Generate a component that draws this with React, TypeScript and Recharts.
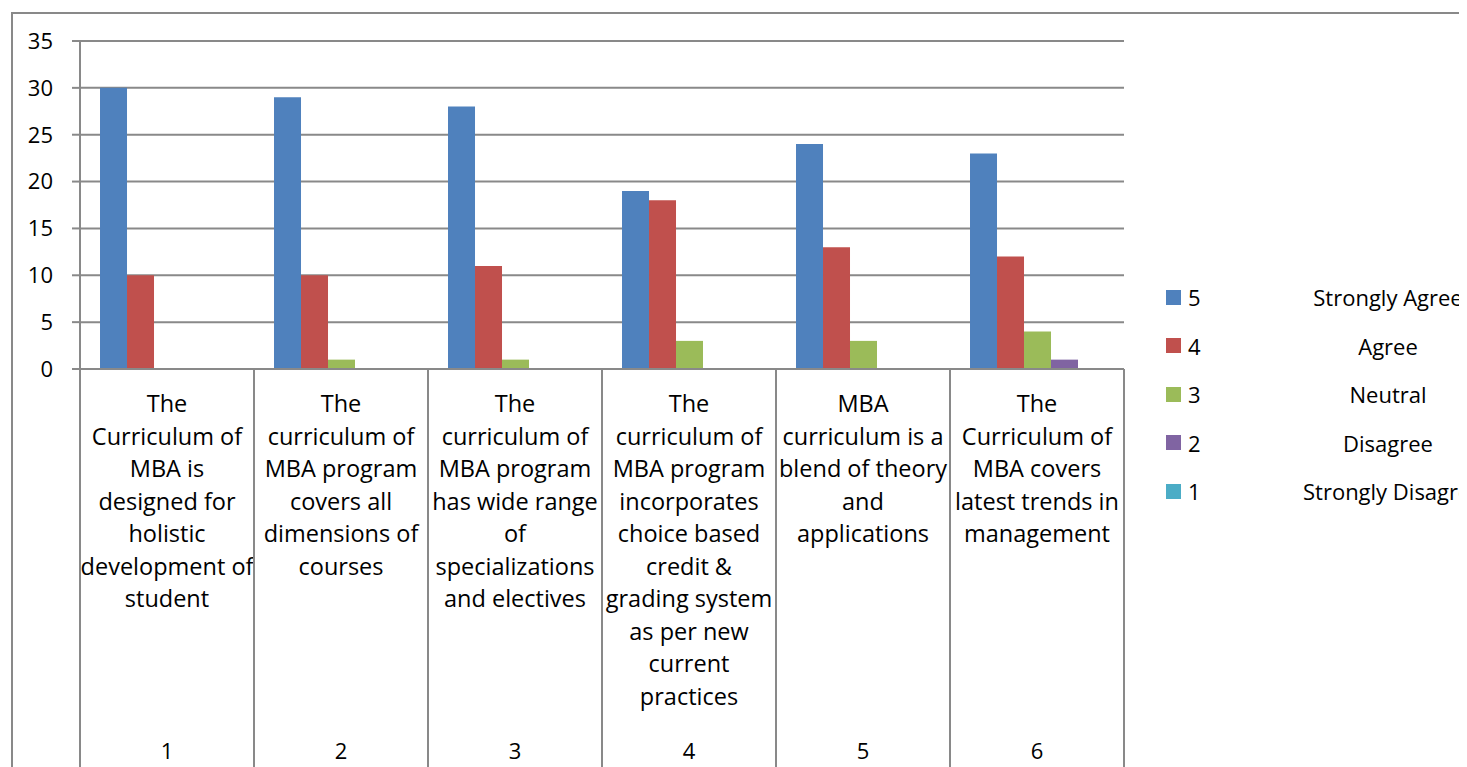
import React from "react";
import { BarChart, Bar, XAxis, YAxis, CartesianGrid } from "recharts";

const categories = ["1", "2", "3", "4", "5", "6"];

const categoryLines = [
  ["The", "Curriculum of", "MBA is", "designed for", "holistic", "development of", "student"],
  ["The", "curriculum of", "MBA program", "covers all", "dimensions of", "courses"],
  ["The", "curriculum of", "MBA program", "has wide range", "of", "specializations", "and electives"],
  ["The", "curriculum of", "MBA program", "incorporates", "choice based", "credit &", "grading system", "as per new", "current", "practices"],
  ["MBA", "curriculum is a", "blend of theory", "and", "applications"],
  ["The", "Curriculum of", "MBA covers", "latest trends in", "management"],
];

const strongAgree = [30, 29, 28, 19, 24, 23];
const agree = [10, 10, 11, 18, 13, 12];
const neutral = [0, 1, 1, 3, 3, 4];
const disagree = [0, 0, 0, 0, 0, 1];
const strongDisagree = [0, 0, 0, 0, 0, 0];

const yTicks = [0, 5, 10, 15, 20, 25, 30, 35];

const series = [
  { key: "s5", code: "5", name: "Strongly Agree", color: "#4F81BD", values: strongAgree },
  { key: "s4", code: "4", name: "Agree", color: "#C0504D", values: agree },
  { key: "s3", code: "3", name: "Neutral", color: "#9BBB59", values: neutral },
  { key: "s2", code: "2", name: "Disagree", color: "#8064A2", values: disagree },
  { key: "s1", code: "1", name: "Strongly Disagree", color: "#4BACC6", values: strongDisagree },
];

const data = categories.map((c, i) => {
  const row: Record<string, string | number> = { name: c };
  series.forEach((s) => {
    row[s.key] = s.values[i];
  });
  return row;
});

const FONT = "'Open Sans', sans-serif";
const GRAY = "#898989";

const CategoryTick = (props: any) => {
  const { x, y, payload, index } = props;
  const half = payload && payload.offset ? payload.offset : 87;
  const lines = categoryLines[index] || [];
  return (
    <g>
      <line x1={x - half} y1={y} x2={x - half} y2={y + 400} stroke={GRAY} strokeWidth={2} />
      <line x1={x + half} y1={y} x2={x + half} y2={y + 400} stroke={GRAY} strokeWidth={2} />
      {lines.map((l, i) => (
        <text
          key={i}
          x={x}
          y={y + 34 + i * 32.5}
          textAnchor="middle"
          dominantBaseline="central"
          fontSize={23.5}
          fontFamily={FONT}
          fill="#000"
        >
          {l}
        </text>
      ))}
      <text
        x={x}
        y={y + 381}
        textAnchor="middle"
        dominantBaseline="central"
        fontSize={22}
        fontFamily={FONT}
        fill="#000"
      >
        {payload.value}
      </text>
    </g>
  );
};

const App = () => {
  return (
    <div style={{ position: "relative", width: 1459, height: 759, overflow: "hidden" }}>
      <div
        style={{
          position: "absolute",
          left: 3,
          top: 4,
          width: 2000,
          height: 2000,
          border: `2px solid ${GRAY}`,
        }}
      />
      <div style={{ position: "absolute", left: 0, top: 0 }}>
        <BarChart
          width={1459}
          height={759}
          data={data}
          margin={{ top: 33, right: 343, bottom: 0, left: 0 }}
          barCategoryGap="11.5%"
          barGap={0}
        >
          <CartesianGrid vertical={false} stroke={GRAY} strokeWidth={2} />
          <XAxis
            dataKey="name"
            height={398}
            tickSize={0}
            tickMargin={0}
            tickLine={false}
            axisLine={{ stroke: GRAY, strokeWidth: 2 }}
            tick={<CategoryTick />}
            interval={0}
          />
          <YAxis
            width={72}
            domain={[0, 35]}
            ticks={yTicks}
            tickSize={8}
            tickMargin={19}
            axisLine={{ stroke: GRAY, strokeWidth: 2 }}
            tickLine={{ stroke: GRAY, strokeWidth: 2 }}
            tick={{ fill: "#000", fontSize: 22, fontFamily: FONT }}
          />
          {series.map((s) => (
            <Bar key={s.key} dataKey={s.key} name={s.name} fill={s.color} isAnimationActive={false} />
          ))}
        </BarChart>
      </div>
      <div style={{ position: "absolute", left: 1158, top: 265, width: 420, fontFamily: FONT, fontSize: 22 }}>
        {series.map((s) => (
          <div key={s.key} style={{ display: "flex", alignItems: "center", height: 48.5, whiteSpace: "nowrap" }}>
            <span style={{ flexShrink: 0, display: "inline-block", width: 15, height: 15, background: s.color }} />
            <span style={{ flexShrink: 0, marginLeft: 7, width: 40 }}>{s.code}</span>
            <span style={{ flexShrink: 0, display: "inline-block", width: 170, textAlign: "center", marginLeft: 75 }}>
              {s.name}
            </span>
          </div>
        ))}
      </div>
    </div>
  );
};

export default App;
